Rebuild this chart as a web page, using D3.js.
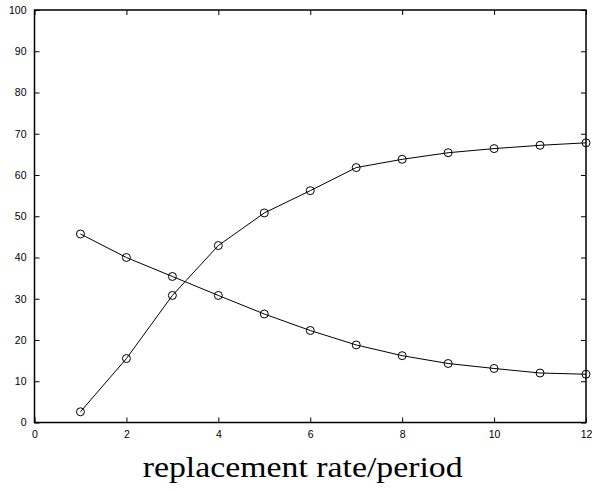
<!DOCTYPE html>
<html><head><meta charset="utf-8">
<script src="https://cdn.jsdelivr.net/npm/d3@7"></script>
<style>body{margin:0;background:#fff;} svg{display:block;}</style>
</head><body>
<svg id="chart" width="592" height="491"></svg>
<script>
const xValues = [1,2,3,4,5,6,7,8,9,10,11,12];
const seriesRising = [2.6,15.5,30.8,42.9,50.8,56.2,61.8,63.8,65.4,66.4,67.2,67.8];
const seriesFalling = [45.7,40.0,35.4,30.8,26.3,22.3,18.8,16.2,14.3,13.1,12.0,11.7];
const xTicks = [0,2,4,6,8,10,12];
const yTicks = [0,10,20,30,40,50,60,70,80,90,100];
const xLabel = "replacement rate/period";

const svg = d3.select("#chart");
const L = 34.5, R = 586, T = 10, B = 422.5;
const x = d3.scaleLinear().domain([0,12]).range([L,R]);
const y = d3.scaleLinear().domain([0,100]).range([B,T]);
const tickFont = "Liberation Sans, Arial, sans-serif";

// box
svg.append("rect").attr("x",L).attr("y",T).attr("width",R-L).attr("height",B-T)
  .attr("fill","none").attr("stroke","#000").attr("stroke-width",1.5);

// axes with inward ticks
const gB = svg.append("g").attr("transform",`translate(0,${B})`)
  .call(d3.axisBottom(x).tickValues(xTicks).tickSizeInner(-5).tickSizeOuter(0).tickPadding(8));
const gL = svg.append("g").attr("transform",`translate(${L},0)`)
  .call(d3.axisLeft(y).tickValues(yTicks).tickSizeInner(-5).tickSizeOuter(0).tickPadding(8));
const gT = svg.append("g").attr("transform",`translate(0,${T})`)
  .call(d3.axisTop(x).tickValues(xTicks).tickSizeInner(-5).tickSizeOuter(0).tickFormat(""));
const gR = svg.append("g").attr("transform",`translate(${R},0)`)
  .call(d3.axisRight(y).tickValues(yTicks).tickSizeInner(-5).tickSizeOuter(0).tickFormat(""));
[gB,gL,gT,gR].forEach(g=>{
  g.select(".domain").remove();
  g.selectAll("line").attr("stroke","#000").attr("stroke-width",1);
  g.selectAll("text").attr("font-family",tickFont).attr("font-size",10.5).attr("fill","#000");
});

const line = d3.line().x((d,i)=>x(xValues[i])).y(d=>y(d));
[seriesRising, seriesFalling].forEach(s=>{
  svg.append("path").datum(s).attr("d",line).attr("fill","none")
    .attr("stroke","#000").attr("stroke-width",1);
  svg.append("g").selectAll("circle").data(s).join("circle")
    .attr("cx",(d,i)=>x(xValues[i])).attr("cy",d=>y(d)).attr("r",4)
    .attr("fill","none").attr("stroke","#000").attr("stroke-width",1);
});

svg.append("text").attr("x",302.7).attr("y",477).attr("text-anchor","middle")
  .attr("font-family","Liberation Serif, Times New Roman, serif").attr("font-size",30)
  .attr("textLength",320).attr("lengthAdjust","spacingAndGlyphs")
  .attr("fill","#000").text(xLabel);
</script>
</body></html>
